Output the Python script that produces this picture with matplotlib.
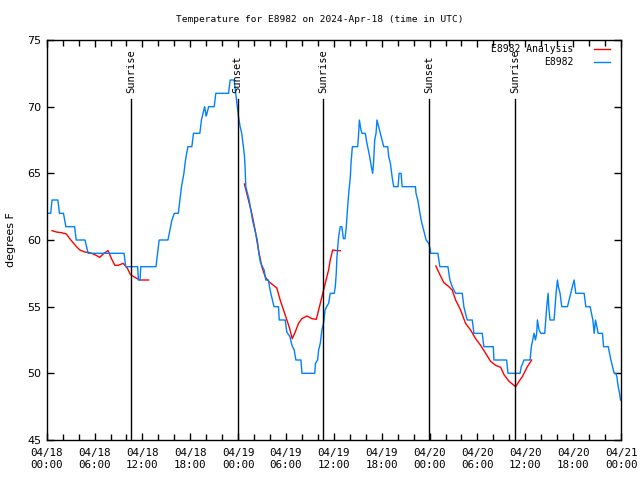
import matplotlib
matplotlib.use("Agg")
import matplotlib.pyplot as plt

# ---- data (hours since 2024-04-18 00:00 UTC) ----
obs_hours = [0.17, 0.5, 0.67, 1.4, 1.6, 2.1, 2.4, 3.5, 3.7, 4.8, 5.2, 9.7, 9.9, 11.4, 11.5, 11.7, 11.8, 13.7,
             14.1, 15.2, 15.45, 15.7, 16.0, 16.5, 16.6, 16.7, 16.9, 17.05, 17.2, 17.3, 17.4, 17.55, 17.7, 18.2,
             18.4, 19.2, 19.3, 19.4, 19.8, 20.0, 20.1, 20.3, 21.0, 21.2, 22.8, 23.0, 23.5, 23.7, 23.9,
             24.04, 24.25, 24.45, 24.66, 24.79, 24.87, 24.96, 25.17, 25.38, 25.59, 25.8, 26.0, 26.2, 26.4,
             26.6, 26.8, 27.05, 27.26, 27.47, 27.8, 27.93, 28.1, 28.3, 28.5, 29.06, 29.15, 29.9, 30.1, 30.5,
             30.74, 31.03, 31.24, 31.87, 32.0, 33.6, 33.7, 33.96, 34.09, 34.3, 34.5, 34.7, 34.9, 35.1, 35.34,
             35.55, 36.05, 36.18, 36.3, 36.39, 36.6, 36.8, 37.0, 37.2, 37.4, 37.56, 37.73, 37.9, 38.07, 38.15,
             38.32, 38.99, 39.11, 39.2, 39.4, 39.53, 39.95, 40.07, 40.24, 40.49, 40.7, 40.87, 41.0, 41.12,
             41.29, 41.41, 41.62, 41.83, 42.04, 42.25, 42.75, 42.88, 43.09, 43.3, 43.5, 44.05, 44.18, 44.43,
             44.56, 46.23, 46.3, 46.52, 46.73, 46.94, 47.15, 47.36, 47.57, 47.9, 48.1, 48.12, 49.04, 49.16,
             49.29, 50.3, 50.42, 50.55, 50.84, 51.26, 52.1, 52.3, 52.5, 52.72, 53.35, 53.56, 54.6, 54.8,
             55.99, 56.07, 57.66, 57.83, 59.34, 59.5, 59.84, 60.6, 60.76, 60.93, 61.1, 61.27, 61.43, 61.52,
             61.73, 61.94, 62.44, 62.56, 62.69, 62.86, 62.94, 63.1, 63.61, 63.74, 63.86, 64.03, 64.15, 64.36,
             64.57, 65.29, 65.5, 65.7, 65.9, 66.12, 66.33, 67.38, 67.59, 68.13, 68.3, 68.47, 68.64, 68.8,
             68.97, 69.14, 69.68, 69.81, 70.4, 70.56, 70.73, 70.94, 71.15, 71.36, 71.48, 71.65, 71.82, 71.94]
obs_temps = [62, 62, 63, 63, 62, 62, 61, 61, 60, 60, 59, 59, 58, 58, 57, 57, 58, 58,
             60, 60, 60.75, 61.5, 62, 62, 62.5, 63, 64, 64.5, 65, 65.5, 66, 66.5, 67, 67,
             68, 68, 68.5, 69, 70, 69.3, 69.5, 70, 70, 71, 71, 72, 72, 71, 70,
             69.25, 68.5, 68, 67, 66.3, 65.5, 64, 63.5, 63, 62.25, 61.5, 61, 60.5, 60,
             59, 58.3, 58, 57.75, 57, 57, 56.5, 56, 55.5, 55, 55, 54, 54, 53.1, 52.75,
             52.1, 51.75, 51, 51, 50, 50, 50.75, 51, 51.75, 52.25, 53.25, 53.75, 54.75, 55, 55.25,
             56, 56, 56.5, 57.5, 58.75, 60.25, 61, 61, 60.1, 60.1, 61, 62.5, 63.75, 64.75, 65.75,
             67, 67, 68, 69, 68.25, 68, 68, 67.5, 67, 66.25, 65.5, 65, 66, 67.5,
             68, 69, 68.5, 68, 67.5, 67, 67, 66.25, 65.75, 64.75, 64, 64, 65, 65,
             64, 64, 63.5, 63, 62.25, 61.5, 61, 60.5, 60, 59.75, 59.25, 59, 59, 58.5,
             58, 58, 57.5, 57, 56.5, 56, 56, 55, 54.5, 54, 54, 53, 53, 52,
             52, 51, 51, 50, 50, 50.5, 51, 51, 52, 52.5, 53, 52.5, 53, 54,
             53.25, 53, 53, 54, 55, 56, 55, 54, 54, 55, 56, 57, 56.5, 56,
             55, 55, 55.5, 56, 56.5, 57, 56, 56, 55, 55, 54.5, 54, 53, 54,
             53.5, 53, 53, 52, 52, 51.5, 51, 50.5, 50, 50, 49.75, 49, 48.5, 48]

ana1_hours = [0.67, 1.21, 1.84, 2.47, 2.89, 3.31, 3.73, 4.15, 4.77, 5.4, 6.03, 6.66, 7.16, 7.7, 8.12,
              8.54, 8.96, 9.59, 10.09, 10.51, 11.05, 11.68, 12.77]
ana1_temps = [60.7, 60.6, 60.55, 60.45, 60.1, 59.8, 59.5, 59.25, 59.1, 59.05, 58.9, 58.7, 59.0, 59.2, 58.6,
              58.1, 58.1, 58.25, 57.9, 57.4, 57.2, 57.0, 57.0]
ana2_hours = [24.79, 25.29, 25.71, 26.13, 26.55, 26.97, 27.39, 27.81, 28.43, 28.85, 29.27, 29.69, 30.11,
              30.44, 30.78, 31.16, 31.57, 31.99, 32.62, 33.25, 33.8, 34.09, 34.51, 34.92, 35.34, 35.55,
              35.85, 36.39, 36.81]
ana2_temps = [64.2, 63, 62, 60.75, 59.25, 58, 57.25, 56.9, 56.6, 56.4, 55.5, 54.75, 54,
              53.4, 52.6, 53.1, 53.75, 54.1, 54.3, 54.1, 54.05, 54.75, 55.75, 56.75, 57.75, 58.5,
              59.25, 59.2, 59.2]
ana3_hours = [48.79, 49.29, 49.79, 50.42, 50.84, 51.26, 51.89, 52.51, 53.14, 53.77, 54.4, 55.03, 55.65,
              56.28, 56.91, 57.33, 57.96, 58.59, 58.79, 59.21, 59.63, 60.26, 60.8]
ana3_temps = [58.05, 57.4, 56.8, 56.5, 56.25, 55.5, 54.75, 53.75, 53.25, 52.6, 52.1, 51.5, 50.9,
              50.6, 50.45, 49.9, 49.4, 49.1, 49.0, 49.4, 49.75, 50.5, 51.0]

sun_hours = [10.58, 23.95, 34.68, 47.98, 58.7]
sun_labels = ["Sunrise", "Sunset", "Sunrise", "Sunset", "Sunrise"]

tick_hours = list(range(0, 73, 6))
tick_labels = ["04/18\n00:00", "04/18\n06:00", "04/18\n12:00", "04/18\n18:00",
               "04/19\n00:00", "04/19\n06:00", "04/19\n12:00", "04/19\n18:00",
               "04/20\n00:00", "04/20\n06:00", "04/20\n12:00", "04/20\n18:00",
               "04/21\n00:00"]
minor_hours = list(range(0, 73, 2))

RED = "#ff0000"
BLUE = "#0080ff"
MONO = "DejaVu Sans Mono"

fig = plt.figure(figsize=(6.4, 4.8), dpi=100)
ax = fig.add_axes([46.7 / 640, 1 - 440 / 480, (621 - 46.7) / 640, 400 / 480])

ax.plot(ana1_hours, ana1_temps, color=RED, lw=1)
ax.plot(ana2_hours, ana2_temps, color=RED, lw=1)
ax.plot(ana3_hours, ana3_temps, color=RED, lw=1)
ax.plot(obs_hours, obs_temps, color=BLUE, lw=1)

line_top = 70.55
for h, lab in zip(sun_hours, sun_labels):
    ax.plot([h, h], [45, line_top], color="black", lw=1)
    ax.text(h, 71.05, lab, rotation=90, ha="center", va="bottom", fontsize=7.5, family=MONO)

ax.set_xlim(0, 72)
ax.set_ylim(45, 75)
ax.set_xticks(tick_hours)
ax.set_xticklabels(tick_labels, family=MONO, fontsize=7.8)
ax.set_xticks(minor_hours, minor=True)
ax.set_yticks([45, 50, 55, 60, 65, 70, 75])
ax.tick_params(axis="both", which="both", direction="in", top=True, right=True, width=1, color="black")
ax.tick_params(axis="both", which="major", length=5)
ax.tick_params(axis="both", which="minor", length=4)
ax.tick_params(axis="x", pad=6)
ax.tick_params(axis="y", labelsize=8, pad=4)
for s in ax.spines.values():
    s.set_linewidth(1)
    s.set_color("black")

ax.set_ylabel("degrees F", fontsize=8, labelpad=8)
fig.text(320 / 640, 1 - 20 / 480, "Temperature for E8982 on 2024-Apr-18 (time in UTC)",
         ha="center", va="center", fontsize=6.8, family=MONO)

# legend (manual, right-aligned text like gnuplot)
leg_rows = [("E8982 Analysis", RED, 0.9775), ("E8982", BLUE, 0.945)]
for lab, col, yy in leg_rows:
    ax.text(0.9165, yy, lab, transform=ax.transAxes, ha="right", va="center", fontsize=7, family=MONO)
    ax.plot([0.9523, 0.981], [yy, yy], transform=ax.transAxes, color=col, lw=1)

fig.savefig("out.png", dpi=100)
